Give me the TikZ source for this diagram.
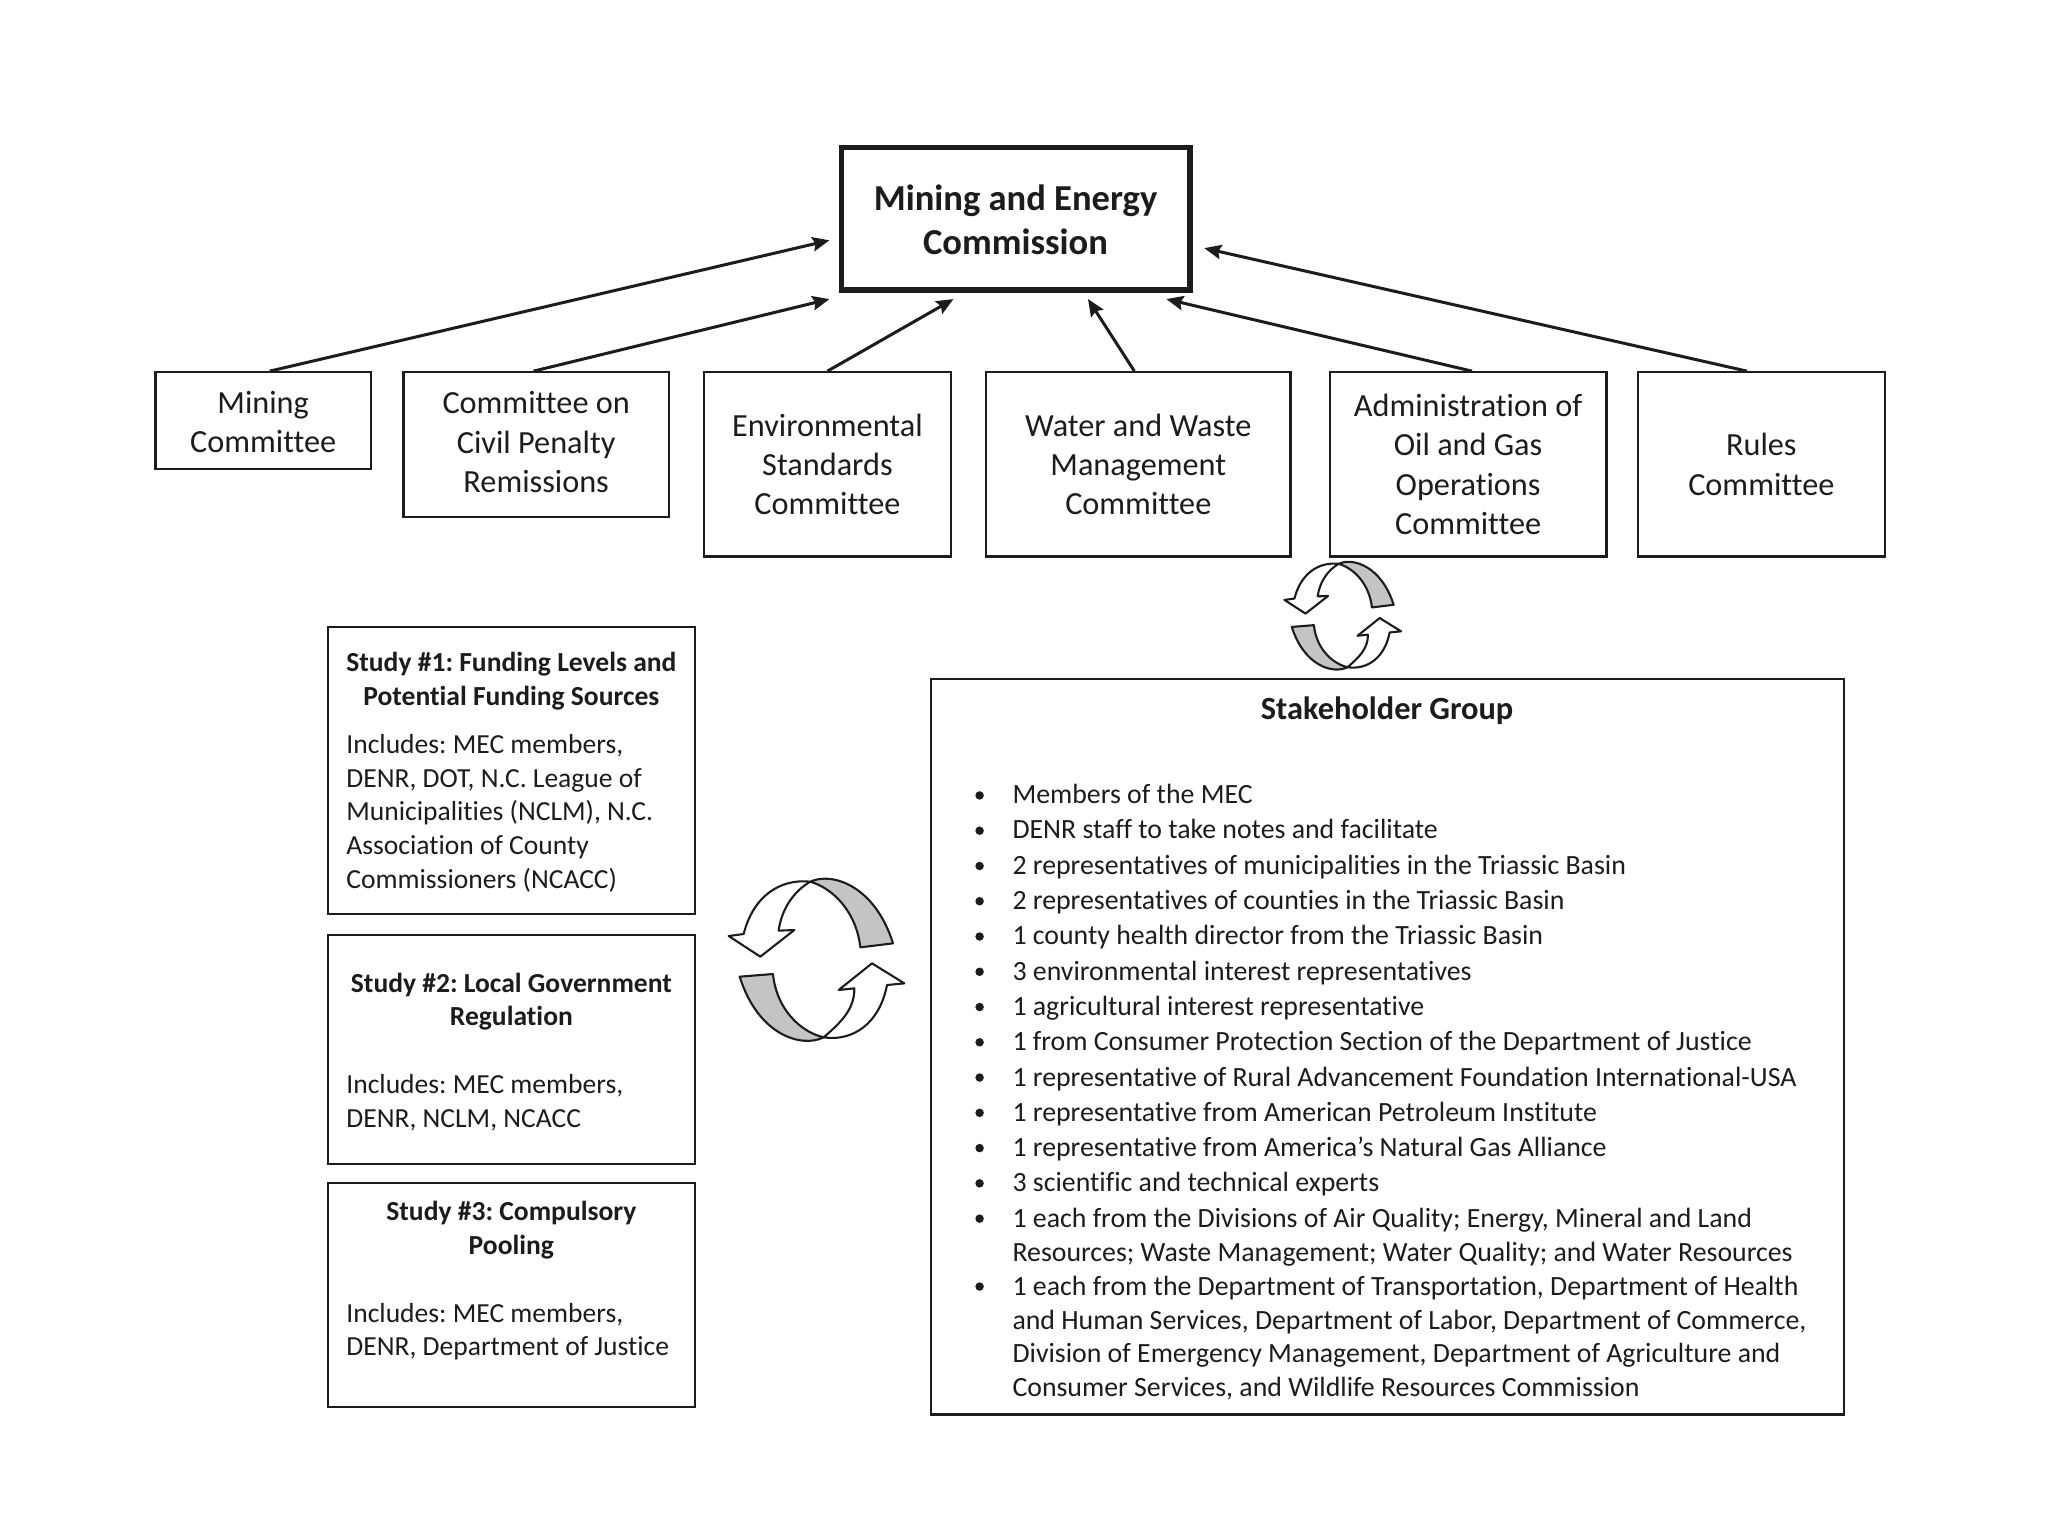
\documentclass[tikz,border=0pt]{standalone}
\usepackage{fontspec}
\setmainfont[Ligatures=NoCommon]{Carlito}
\usetikzlibrary{arrows.meta}
\definecolor{ink}{HTML}{1C1C1C}
\definecolor{band}{HTML}{C4C4C4}
\frenchspacing
\tikzset{
  x=1pt,y=-1pt,
  box/.style={draw=ink,line width=1.7pt,fill=white,inner sep=0pt,align=center,text=ink},
  cmt/.style={box,font=\fontsize{24.7}{30}\selectfont},
  cmtxt/.style={inner sep=0pt,align=center,text=ink,font=\fontsize{24.7}{30}\selectfont},
  mec/.style={box,line width=4pt},
  mectxt/.style={inner sep=0pt,align=center,text=ink,font=\bfseries\fontsize{28}{34}\selectfont},
  arr/.style={draw=ink,line width=2.3pt,-{Stealth[length=13pt,width=11pt,inset=2pt]}},
  ttl/.style={inner sep=0pt,align=center,text=ink,font=\bfseries\fontsize{21.1}{25.7}\selectfont},
  bodytxt/.style={inner sep=0pt,anchor=base west,text=ink,font=\fontsize{21.1}{26}\selectfont},
  li/.style={inner sep=0pt,anchor=base west,text=ink,font=\fontsize{21.3}{26}\selectfont},
  dot/.style={circle,fill=ink,inner sep=0pt,minimum size=6.5pt},
  cyc/.style={draw=ink,line width=1.6pt,line join=round},
}
\newcommand{\cyclepair}[3]{%
\begin{scope}[shift={(#1,#2)},x=#3pt,y=-#3pt]
  \draw[cyc,fill=band] (-18,-235) .. controls (45,-265) and (175,-225) .. (230,-50)
    -- (132,-38) .. controls (120,-145) and (50,-215) .. (-18,-235) -- cycle;
  \draw[cyc,fill=white] (-18,-235) .. controls (-110,-245) and (-190,-190) .. (-218,-78)
    -- (-263,-72) -- (-168,-10) -- (-66,-90) -- (-113,-88)
    .. controls (-105,-150) and (-70,-205) .. (-18,-235) -- cycle;
  \draw[cyc,fill=band] (-230,50) -- (-130,42) .. controls (-120,145) and (-50,215) .. (22,232)
    .. controls (-45,265) and (-175,225) .. (-230,50) -- cycle;
  \draw[cyc,fill=white] (22,232) .. controls (70,190) and (115,150) .. (114,85)
    -- (67,90) -- (167,10) -- (264,70) -- (212,75)
    .. controls (190,190) and (110,245) .. (22,232) -- cycle;
\end{scope}}
\begin{document}
\begin{tikzpicture}
\useasboundingbox (0,0) rectangle (1568,1176);
\fill[white] (0,0) rectangle (1568,1176);

\node[mec,minimum width=267pt,minimum height=109pt] (mec) at (777.5,167.5) {};
\node[mectxt] (mectext) at (777.5,168.5) {Mining and Energy\\Commission};

\node[box,minimum width=165pt,minimum height=74pt] (mining) at (201.5,322) {};
\node[cmtxt] (miningtext) at (201.5,323) {Mining\\Committee};
\node[box,minimum width=203pt,minimum height=111pt] (penalty) at (410.5,340.5) {};
\node[cmtxt] (penaltytext) at (410.5,338.5) {Committee on\\Civil Penalty\\Remissions};
\node[cmt,minimum width=189pt,minimum height=141pt] (env) at (633.5,355.5) {Environmental\\Standards\\Committee};
\node[cmt,minimum width=233pt,minimum height=141pt] (water) at (871.5,355.5) {Water and Waste\\Management\\Committee};
\node[cmt,minimum width=212pt,minimum height=141pt] (admin) at (1124,355.5) {Administration of\\Oil and Gas\\Operations\\Committee};
\node[cmt,minimum width=189pt,minimum height=141pt] (rules) at (1348.5,355.5) {Rules\\Committee};

\coordinate (e1) at (635,184);
\coordinate (e2) at (635,229);
\coordinate (e3) at (730,229);
\coordinate (e4) at (833,229);
\coordinate (e5) at (893,229);
\coordinate (e6) at (922,190);
\draw[arr] ([xshift=5pt]mining.north) -- (e1);
\draw[arr] ([xshift=-2pt]penalty.north) -- (e2);
\draw[arr] (env.north) -- (e3);
\draw[arr] ([xshift=-3pt]water.north) -- (e4);
\draw[arr] ([xshift=3pt]admin.north) -- (e5);
\draw[arr] ([xshift=-11pt]rules.north) -- (e6);

\cyclepair{1028}{471.5}{0.1695}
\cyclepair{625}{735}{0.2552}

% Studies
\node[box,minimum width=281pt,minimum height=220pt] (st1) at (391.5,590) {};
\node[box,minimum width=281pt,minimum height=175pt] (st2) at (391.5,803.5) {};
\node[box,minimum width=281pt,minimum height=171pt] (st3) at (391.5,991.5) {};

\node[ttl] (t1) at (391.5,521.5) {Study \#1: Funding Levels and\\Potential Funding Sources};
\node[bodytxt] (b11) at (265,577) {Includes: MEC members,};
\node[bodytxt] (b12) at (265,603) {DENR, DOT, N.C. League of};
\node[bodytxt] (b13) at (265,628.5) {Municipalities (NCLM), N.C.};
\node[bodytxt] (b14) at (265,654.5) {Association of County};
\node[bodytxt] (b15) at (265,680) {Commissioners (NCACC)};

\node[ttl] (t2) at (391.5,767) {Study \#2: Local Government\\Regulation};
\node[bodytxt] (b21) at (265,837) {Includes: MEC members,};
\node[bodytxt] (b22) at (265,863) {DENR, NCLM, NCACC};

\node[ttl] (t3) at (391.5,942) {Study \#3: Compulsory\\Pooling};
\node[bodytxt] (b31) at (265,1012.5) {Includes: MEC members,};
\node[bodytxt] (b32) at (265,1038) {DENR, Department of Justice};

% Stakeholder group
\node[box,minimum width=699pt,minimum height=563pt] (sg) at (1062.5,801.5) {};
\node[inner sep=0pt,text=ink,font=\bfseries\fontsize{24.8}{28}\selectfont] (sgt) at (1062,544) {Stakeholder Group};

\node[dot] (d1) at (750,609) {};
\node[dot] (d2) at (750,636) {};
\node[dot] (d3) at (750,663) {};
\node[dot] (d4) at (750,690) {};
\node[dot] (d5) at (750,717) {};
\node[dot] (d6) at (750,744) {};
\node[dot] (d7) at (750,771) {};
\node[dot] (d8) at (750,798) {};
\node[dot] (d9) at (750,825) {};
\node[dot] (d10) at (750,852) {};
\node[dot] (d11) at (750,879) {};
\node[dot] (d12) at (750,906) {};
\node[dot] (d13) at (750,933) {};
\node[dot] (d14) at (750,985) {};

\node[li] (l1) at (775,615) {Members of the MEC};
\node[li] (l2) at (775,642) {DENR staff to take notes and facilitate};
\node[li] (l3) at (775,669.5) {2 representatives of municipalities in the Triassic Basin};
\node[li] (l4) at (775,696.5) {2 representatives of counties in the Triassic Basin};
\node[li] (l5) at (775,723.5) {1 county health director from the Triassic Basin};
\node[li] (l6) at (775,750.5) {3 environmental interest representatives};
\node[li] (l7) at (775,777.5) {1 agricultural interest representative};
\node[li] (l8) at (775,804.5) {1 from Consumer Protection Section of the Department of Justice};
\node[li] (l9) at (775,831.5) {1 representative of Rural Advancement Foundation International-USA};
\node[li] (l10) at (775,858.5) {1 representative from American Petroleum Institute};
\node[li] (l11) at (775,885.5) {1 representative from America’s Natural Gas Alliance};
\node[li] (l12) at (775,912.5) {3 scientific and technical experts};
\node[li] (l13) at (775,939.5) {1 each from the Divisions of Air Quality; Energy, Mineral and Land};
\node[li] (l14) at (775,965.5) {Resources; Waste Management; Water Quality; and Water Resources};
\node[li] (l15) at (775,991.5) {1 each from the Department of Transportation, Department of Health};
\node[li] (l16) at (775,1017.5) {and Human Services, Department of Labor, Department of Commerce,};
\node[li] (l17) at (775,1043.5) {Division of Emergency Management, Department of Agriculture and};
\node[li] (l18) at (775,1069.5) {Consumer Services, and Wildlife Resources Commission};
\end{tikzpicture}
\end{document}
